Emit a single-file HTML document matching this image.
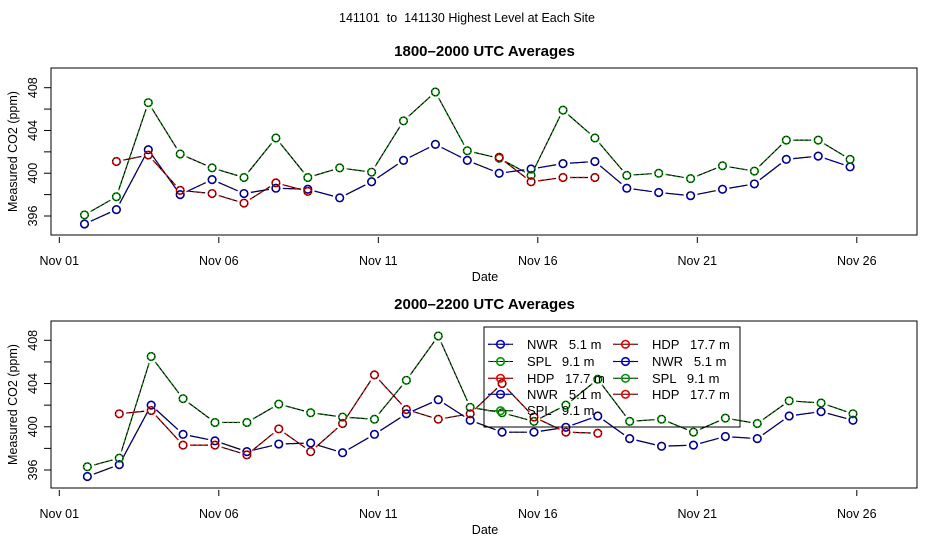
<!DOCTYPE html>
<html><head><meta charset="utf-8">
<style>
html,body{margin:0;padding:0;background:#fff;}
svg{display:block;font-family:"Liberation Sans",sans-serif;}
text{white-space:pre;}
</style></head>
<body>
<svg id="chart" width="936" height="540" viewBox="0 0 936 540" xmlns="http://www.w3.org/2000/svg">
<text x="467" y="22" font-size="12.5" text-anchor="middle" style="white-space:pre">141101  to  141130 Highest Level at Each Site</text>
<g id="panels"></g>
</svg>
<script>
const days = [1,2,3,4,5,6,7,8,9,10,11,12,13,14,15,16,17,18,19,20,21,22,23,24,25];
const xTickLabels = ["Nov 01","Nov 06","Nov 11","Nov 16","Nov 21","Nov 26"];
const xTickDays = [1,6,11,16,21,26];
const yTicks = [396,398,400,402,404,406,408];
const yTickLabels = ["396","400","404","408"];
const panelTitles = ["1800\u20132000 UTC Averages","2000\u20132200 UTC Averages"];
const hourOffsets = [0.79, 0.88];

const topNWR = [395.25,396.6,402.2,398.0,399.4,398.1,398.6,398.5,397.7,399.2,401.2,402.7,401.2,400.0,400.4,400.9,401.1,398.6,398.2,397.9,398.5,399.0,401.3,401.6,400.6];
const topSPL = [396.1,397.8,406.6,401.8,400.5,399.6,403.3,399.6,400.5,400.1,404.9,407.6,402.1,401.4,399.8,405.9,403.3,399.8,400.0,399.5,400.7,400.2,403.1,403.1,401.3];
const topHDP = [null,401.1,401.7,398.4,398.1,397.2,399.1,398.3,null,null,null,null,null,401.5,399.2,399.6,399.6,null,null,null,null,null,null,null,null];

const botNWR = [395.4,396.5,402.0,399.3,398.7,397.7,398.4,398.5,397.6,399.3,401.2,402.5,400.6,399.5,399.5,399.95,401.0,398.9,398.2,398.3,399.1,398.9,401.0,401.4,400.6];
const botSPL = [396.3,397.1,406.5,402.6,400.4,400.4,402.1,401.3,400.9,400.7,404.3,408.4,401.8,401.3,400.5,402.0,404.4,400.5,400.7,399.5,400.8,400.3,402.4,402.2,401.2];
const botHDP = [null,401.2,401.5,398.3,398.3,397.4,399.8,397.7,400.3,404.8,401.6,400.7,401.2,404.0,400.9,399.5,399.4,null,null,null,null,null,null,null,null];

const NS="http://www.w3.org/2000/svg";
const root=document.getElementById('panels');
function mk(tag,attrs,parent){const e=document.createElementNS(NS,tag);for(const k in attrs)e.setAttribute(k,attrs[k]);(parent||root).appendChild(e);return e;}

const X0=59.3, DX=31.9;
function xScale(d){return X0+(d-1)*DX;}
const panels=[
 {top:68,bottom:235,y408:87.7,y396:216,series:[topNWR,topSPL,topHDP],titleY:56,xlabY:281},
 {top:321,bottom:488,y408:340.3,y396:470,series:[botNWR,botSPL,botHDP],titleY:309,xlabY:534}
];
const styles=[{c:"#0000cc",dash:"3,3"},{c:"#009900",dash:"2,3"},{c:"#ee0000",dash:"3,3"}];

panels.forEach((p,pi)=>{
 const g=mk('g',{});
 
 
 function yScale(v){return p.y396-(v-396)*(p.y396-p.y408)/12;}
 const t=mk('text',{x:484.5,y:p.titleY,'font-size':15,'font-weight':'bold','text-anchor':'middle'},g);
 t.textContent=panelTitles[pi];
 
 
 const box=mk('rect',{x:51,y:p.top,width:866,height:p.bottom-p.top,fill:'none',stroke:'#000','stroke-width':1},g);
 
 
 yTicks.forEach(v=>{const y=yScale(v);const l=mk('line',{x1:44,x2:51,y1:y,y2:y,stroke:'#000'},g);
  
  });
 yTickLabels.forEach(s=>{const y=yScale(+s);const tx=mk('text',{x:0,y:0,'font-size':12.5,'text-anchor':'middle',transform:`translate(37,${y}) rotate(-90)`},g);tx.textContent=s;
  
  });
 const yl=mk('text',{x:0,y:0,'font-size':12.5,'text-anchor':'middle',transform:`translate(17,${(p.top+p.bottom)/2}) rotate(-90)`},g);
 yl.textContent="Measured CO2 (ppm)";
 
 
 xTickDays.forEach((d,i)=>{const x=xScale(d);const l=mk('line',{x1:x,x2:x,y1:p.bottom+2,y2:p.bottom+8,stroke:'#000'},g);
  
  
  const tx=mk('text',{x:x,y:p.bottom+30,'font-size':12.5,'text-anchor':'middle'},g);tx.textContent=xTickLabels[i];
  
  });
 const xl=mk('text',{x:485,y:p.xlabY,'font-size':12.5,'text-anchor':'middle'},g);
 xl.textContent="Date";
 
 
 const names=['nwr','spl','hdp'];
 p.series.forEach((vals,si)=>{
  const st=styles[si];
  const sg=mk('g',{},g);
  
  
  const pts=vals.map((v,i)=>v==null?null:[xScale(days[i]+hourOffsets[pi]),yScale(v)]);
  for(let i=0;i<pts.length-1;i++){
   const a=pts[i],b=pts[i+1]; if(!a||!b) continue;
   const dx=b[0]-a[0],dy=b[1]-a[1],L=Math.hypot(dx,dy),r=7;
   const x1=a[0]+dx/L*r,y1=a[1]+dy/L*r,x2=b[0]-dx/L*r,y2=b[1]-dy/L*r;
   const bl=mk('line',{x1,y1,x2,y2,stroke:'#000','stroke-width':1.2},sg);
   
   
   const cl=mk('line',{x1,y1,x2,y2,stroke:st.c,'stroke-width':1.2,'stroke-dasharray':st.dash},sg);
   
   
  }
  pts.forEach(pt=>{ if(!pt) return;
   const c=mk('circle',{cx:pt[0],cy:pt[1],r:3.8,fill:'none',stroke:st.c,'stroke-width':1.6},sg);
   
   
   const c2=mk('circle',{cx:pt[0],cy:pt[1],r:3.8,fill:'none',stroke:'#000','stroke-width':0.9,'stroke-dasharray':'1.5,1.5'},sg);
   
   
  });
 });
});

const legendNames=["NWR   5.1 m","SPL   9.1 m","HDP   17.7 m","NWR   5.1 m","SPL   9.1 m","HDP   17.7 m","NWR   5.1 m","SPL   9.1 m","HDP   17.7 m"];
const lg=mk('g',{});


const lb=mk('rect',{x:484,y:327,width:256,height:100,fill:'none',stroke:'#000'},lg);


const rowsY=[344.3,361.5,378.3,394.3,410.7];
legendNames.forEach((n,i)=>{
 const col=i<5?0:1,row=i<5?i:i-5;
 const lx=col?613:488, tx=col?652:527, y=rowsY[row], st=styles[i%3];
 const e=mk('g',{},lg);
 
 
 mk('line',{x1:lx,x2:lx+25,y1:y,y2:y,stroke:'#000','stroke-width':1},e);
 mk('line',{x1:lx,x2:lx+25,y1:y,y2:y,stroke:st.c,'stroke-width':1.2,'stroke-dasharray':st.dash},e);
 mk('circle',{cx:lx+12.5,cy:y,r:3.8,fill:'none',stroke:st.c,'stroke-width':1.6},e);
 const t=mk('text',{x:tx,y:y+4.5,'font-size':13,style:'white-space:pre'},e);
 t.textContent=n;
});
</script>
</body></html>
